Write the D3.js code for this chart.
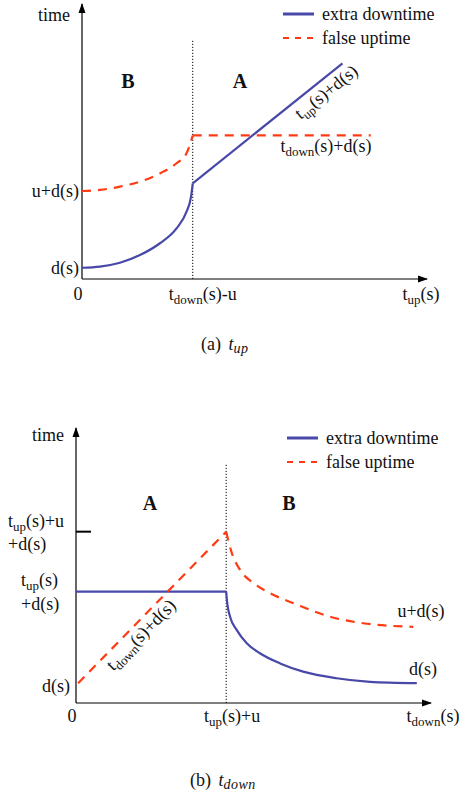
<!DOCTYPE html>
<html>
<head>
<meta charset="utf-8">
<script src="https://cdn.jsdelivr.net/npm/d3@7"></script>
<style>
  body { margin: 0; background: #fff; }
  svg { display: block; }
  text { font-family: "Liberation Serif", "Times New Roman", serif; fill: #111; }
</style>
</head>
<body>
<svg id="chart" width="461" height="795"></svg>
<script>
// ---- data (abstract units) ----
var legendLabels = ["extra downtime", "false uptime"];

// (a) t_up
var upSplit = 3.21;
var upBlueCurve = [[0, 0.41], [0.52, 0.45], [1.10, 0.59], [1.68, 0.87], [2.26, 1.30], [2.74, 1.84], [3.03, 2.45], [3.16, 2.99], [3.21, 3.48]];
var upBlueLine = [[3.21, 3.48], [7.55, 7.84]];
var upRedCurve = [[0, 3.20], [0.52, 3.24], [1.10, 3.36], [1.68, 3.54], [2.26, 3.84], [2.74, 4.21], [3.03, 4.57], [3.21, 5.22]];
var upRedLine = [[3.21, 5.22], [8.37, 5.22]];
var upYTicks = [0.41, 3.20];

// (b) t_down
var downSplit = 4.23;
var downBlueLine = [[0, 4.05], [4.23, 4.05]];
var downBlueCurve = [[4.23, 4.05], [4.26, 3.63], [4.34, 3.14], [4.53, 2.65], [4.81, 2.17], [5.18, 1.81], [5.75, 1.44], [6.40, 1.14], [7.34, 0.90], [8.28, 0.77], [9.60, 0.72]];
var downRedLine = [[0.06, 0.72], [4.23, 6.23]];
var downRedCurve = [[4.23, 6.23], [4.39, 5.45], [4.62, 4.84], [5.00, 4.36], [5.46, 4.00], [6.22, 3.58], [7.15, 3.14], [8.09, 2.90], [9.50, 2.77]];
var downYTicks = [0.72, 4.05, 6.23];

var BLUE = "#4848a8";
var RED = "#ff3b14";

var svg = d3.select("#chart");
svg.append("rect").attr("width", 461).attr("height", 795).attr("fill", "#fff");

var defs = svg.append("defs");
defs.append("marker")
  .attr("id", "arrow")
  .attr("viewBox", "0 0 10 10")
  .attr("refX", 9).attr("refY", 5)
  .attr("markerWidth", 10).attr("markerHeight", 10)
  .attr("markerUnits", "userSpaceOnUse")
  .attr("orient", "auto")
  .append("path")
  .attr("d", "M0,1.5 L10,5 L0,8.5 Z")
  .attr("fill", "#000");

// text with optional subscript parts: [["t"], ["up", true], ["(s)"]]
function richText(g, parts, opts) {
  var size = opts.size || 18;
  var t = g.append("text")
    .attr("x", opts.x).attr("y", opts.y)
    .attr("font-size", size)
    .attr("text-anchor", opts.anchor || "start");
  if (opts.transform) t.attr("transform", opts.transform);
  var shifted = false;
  parts.forEach(function(p) {
    var ts = t.append("tspan").text(p[0]);
    if (p[1] && !shifted) {
      ts.attr("dy", 4).attr("font-size", size * 0.72);
      shifted = true;
    } else if (!p[1] && shifted) {
      ts.attr("dy", -4);
      shifted = false;
    }
  });
  return t;
}

function drawAxes(g, x, y, split, dotTop) {
  g.append("line")
    .attr("x1", x(0)).attr("y1", y(0))
    .attr("x2", x.range()[1]).attr("y2", y(0))
    .attr("stroke", "#000").attr("stroke-width", 1.2)
    .attr("marker-end", "url(#arrow)");
  g.append("line")
    .attr("x1", x(0)).attr("y1", y(0))
    .attr("x2", x(0)).attr("y2", y.range()[1])
    .attr("stroke", "#000").attr("stroke-width", 1.2)
    .attr("marker-end", "url(#arrow)");
  g.append("line")
    .attr("x1", x(split)).attr("y1", y(0))
    .attr("x2", x(split)).attr("y2", dotTop)
    .attr("stroke", "#000").attr("stroke-width", 1)
    .attr("stroke-dasharray", "1.2,1.8");
}

function drawLegend(g, lx, ly) {
  legendLabels.forEach(function(lab, i) {
    var yy = ly + i * 24;
    g.append("line")
      .attr("x1", lx).attr("x2", lx + 31)
      .attr("y1", yy).attr("y2", yy)
      .attr("stroke", i === 0 ? BLUE : RED)
      .attr("stroke-width", i === 0 ? 3 : 2.2)
      .attr("stroke-dasharray", i === 0 ? null : "6,6");
    g.append("text")
      .attr("x", lx + 39).attr("y", yy + 6)
      .attr("font-size", 18)
      .text(lab);
  });
}

var smooth = d3.line().curve(d3.curveMonotoneX);
var straight = d3.line();

function path(g, data, x, y, color, dashed, gen) {
  g.append("path")
    .attr("d", (gen || straight).x(function(d) { return x(d[0]); }).y(function(d) { return y(d[1]); })(data))
    .attr("fill", "none")
    .attr("stroke", color)
    .attr("stroke-width", 2.2)
    .attr("stroke-dasharray", dashed ? "9,7" : null);
}

function alongLabel(g, parts, x, y, seg, frac, offset) {
  var x0 = x(seg[0][0]), y0 = y(seg[0][1]), x1 = x(seg[1][0]), y1 = y(seg[1][1]);
  var ang = Math.atan2(y1 - y0, x1 - x0) * 180 / Math.PI;
  var px = x0 + (x1 - x0) * frac, py = y0 + (y1 - y0) * frac;
  richText(g, parts, {
    x: 0, y: offset, anchor: "middle",
    transform: "translate(" + px + "," + py + ") rotate(" + ang + ")"
  });
}

function caption(g, cx, cy, letter, sub) {
  var cap = g.append("text").attr("x", cx).attr("y", cy).attr("font-size", 18);
  cap.append("tspan").text("(" + letter + ") ");
  cap.append("tspan").attr("font-style", "italic").attr("dx", 3).text("t");
  cap.append("tspan").attr("font-style", "italic").attr("font-size", 14).attr("dy", 3).attr("letter-spacing", 0.5).text(sub);
}

// ===== (a) t_up =====
(function() {
  var g = svg.append("g");
  var x = d3.scaleLinear().domain([0, 10]).range([82, 427]);
  var y = d3.scaleLinear().domain([0, 10]).range([279, 4]);

  drawAxes(g, x, y, upSplit, 39);

  path(g, upBlueCurve, x, y, BLUE, false, smooth);
  path(g, upBlueLine, x, y, BLUE, false);
  path(g, upRedCurve, x, y, RED, true, smooth);
  path(g, upRedLine, x, y, RED, true);

  g.append("text").attr("x", 70).attr("y", 21).attr("font-size", 18)
    .attr("text-anchor", "end").text("time");

  richText(g, [["d(s)"]], { x: 79, y: y(upYTicks[0]) + 6, anchor: "end" });
  richText(g, [["u+d(s)"]], { x: 79, y: y(upYTicks[1]) + 6, anchor: "end" });
  richText(g, [["0"]], { x: 78, y: 300, anchor: "middle" });
  richText(g, [["t"], ["down", true], ["(s)-u"]], { x: x(upSplit) + 10, y: 300, anchor: "middle" });
  richText(g, [["t"], ["up", true], ["(s)"]], { x: 421, y: 300, anchor: "middle" });
  richText(g, [["t"], ["down", true], ["(s)+d(s)"]], { x: 326, y: y(upRedLine[0][1]) + 17, anchor: "middle" });

  alongLabel(g, [["t"], ["up", true], ["(s)+d(s)"]], x, y, upBlueLine, 0.84, 18);

  g.append("text").attr("x", 128).attr("y", 88).attr("font-size", 20)
    .attr("font-weight", "bold").attr("text-anchor", "middle").text("B");
  g.append("text").attr("x", 240).attr("y", 88).attr("font-size", 20)
    .attr("font-weight", "bold").attr("text-anchor", "middle").text("A");

  drawLegend(g, 283, 14);

  caption(g, 201, 350, "a", "up");
})();

// ===== (b) t_down =====
(function() {
  var g = svg.append("g");
  var x = d3.scaleLinear().domain([0, 10]).range([76, 431]);
  var y = d3.scaleLinear().domain([0, 10]).range([703, 428]);

  drawAxes(g, x, y, downSplit, 463);

  // tick mark at the peak
  g.append("line")
    .attr("x1", x(0)).attr("x2", x(0) + 15)
    .attr("y1", y(downYTicks[2])).attr("y2", y(downYTicks[2]))
    .attr("stroke", "#000").attr("stroke-width", 2);

  path(g, downBlueLine, x, y, BLUE, false);
  path(g, downBlueCurve, x, y, BLUE, false, smooth);
  path(g, downRedLine, x, y, RED, true);
  path(g, downRedCurve, x, y, RED, true, smooth);

  g.append("text").attr("x", 64).attr("y", 441).attr("font-size", 18)
    .attr("text-anchor", "end").text("time");

  richText(g, [["t"], ["up", true], ["(s)+u"]], { x: 8, y: y(downYTicks[2]) - 5 });
  richText(g, [["+d(s)"]], { x: 8, y: y(downYTicks[2]) + 18 });
  richText(g, [["t"], ["up", true], ["(s)"]], { x: 21, y: y(downYTicks[1]) - 6 });
  richText(g, [["+d(s)"]], { x: 21, y: y(downYTicks[1]) + 18 });
  richText(g, [["d(s)"]], { x: 70, y: y(downYTicks[0]) + 9, anchor: "end" });
  richText(g, [["0"]], { x: 72, y: 722, anchor: "middle" });
  richText(g, [["t"], ["up", true], ["(s)+u"]], { x: x(downSplit) + 6, y: 722, anchor: "middle" });
  richText(g, [["t"], ["down", true], ["(s)"]], { x: 433, y: 722, anchor: "middle" });
  richText(g, [["u+d(s)"]], { x: 421, y: y(downRedCurve[downRedCurve.length - 1][1]) - 10, anchor: "middle" });
  richText(g, [["d(s)"]], { x: 423, y: y(downBlueCurve[downBlueCurve.length - 1][1]) - 8, anchor: "middle" });

  alongLabel(g, [["t"], ["down", true], ["(s)+d(s)"]], x, y, downRedLine, 0.37, 17);

  g.append("text").attr("x", 150).attr("y", 510).attr("font-size", 20)
    .attr("font-weight", "bold").attr("text-anchor", "middle").text("A");
  g.append("text").attr("x", 289).attr("y", 510).attr("font-size", 20)
    .attr("font-weight", "bold").attr("text-anchor", "middle").text("B");

  drawLegend(g, 287, 438);

  caption(g, 190, 786, "b", "down");
})();
</script>
</body>
</html>
